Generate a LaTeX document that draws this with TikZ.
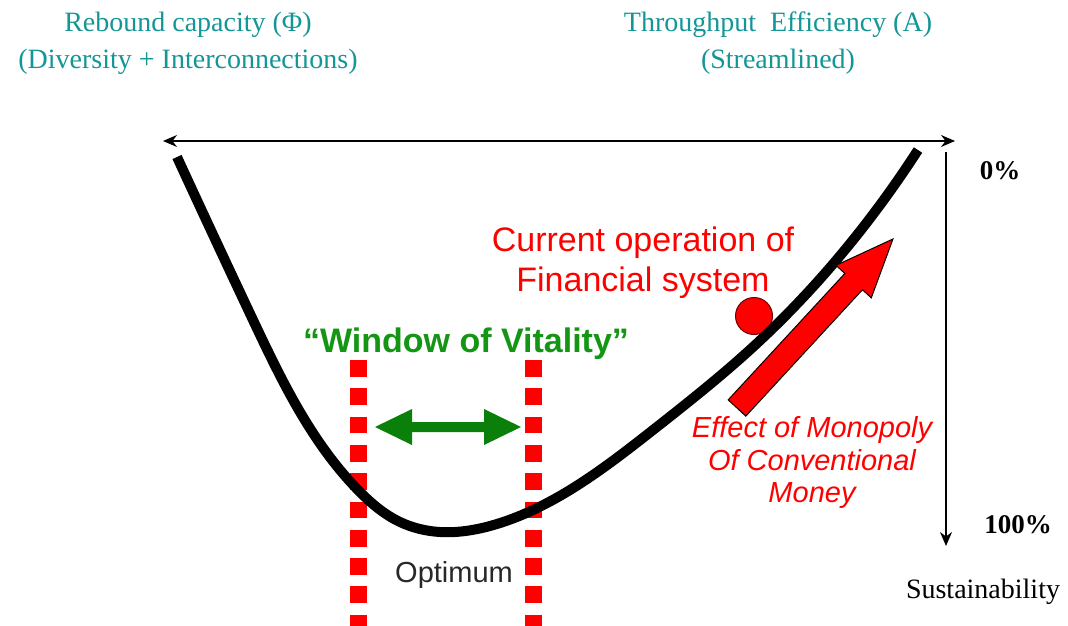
\documentclass[tikz,border=0pt]{standalone}
\usepackage{fontspec}
\setmainfont{Liberation Sans}
\newfontfamily\serifA{Liberation Serif}
\usetikzlibrary{arrows.meta,hobby}
\definecolor{tealT}{RGB}{20,150,150}
\definecolor{greenA}{RGB}{10,128,10}
\definecolor{greenT}{RGB}{20,150,20}
\definecolor{redA}{RGB}{255,0,0}
\definecolor{darkred}{RGB}{110,0,0}
\definecolor{optgray}{RGB}{40,40,40}
\tikzset{
  toplabel/.style={anchor=base, inner sep=0pt, text=tealT, font=\fontsize{28}{30}\selectfont\serifA},
  axislabel/.style={anchor=base, inner sep=0pt, font=\fontsize{27}{30}\selectfont\serifA\bfseries},
  redlabel/.style={anchor=base, inner sep=0pt, text=redA, font=\fontsize{34}{36}\selectfont},
  effectlabel/.style={anchor=base, inner sep=0pt, text=redA, font=\fontsize{29}{31}\selectfont\itshape},
  axisline/.style={line width=1.6pt, -{Stealth[length=14pt,width=12pt]}},
  bowl/.style={line width=10pt, black},
  window/.style={redA, line width=17pt, dash pattern=on 16.7pt off 11.6pt},
}
\begin{document}
\begin{tikzpicture}[x=1pt,y=-1pt]
\useasboundingbox[fill=white] (0,0) rectangle (1068,626);

% axes
\coordinate (hL) at (163,141);
\coordinate (hR) at (955,141);
\coordinate (hM) at (560,141);
\coordinate (vT) at (946,152);
\coordinate (vB) at (946,546);
\draw[axisline] (hM) -- (hL);
\draw[axisline] (hM) -- (hR);
\draw[axisline] (vT) -- (vB);

% window lines
\coordinate (wL1) at (358.5,360);
\coordinate (wL2) at (358.5,640);
\coordinate (wR1) at (533.5,360);
\coordinate (wR2) at (533.5,640);
\draw[window] (wL1) -- (wL2);
\draw[window] (wR1) -- (wR2);

% red ball
\node[circle, fill=redA, draw=darkred, line width=1pt, minimum size=37pt, inner sep=0pt] (ball) at (754,316) {};

% bowl curve
\draw[bowl, use Hobby shortcut] (177,157) .. (253,320) .. (358,490) .. (400,522) .. (440,532) .. (490,526) .. (533,510) .. (653,430) .. (753,347) .. (853,240) .. (918,150);

% green double arrow
\fill[greenA] (375,427) -- (412,409) -- (412,422) -- (484,422) -- (484,409) -- (521,427) -- (484,445) -- (484,432) -- (412,432) -- (412,445) -- cycle;

% red arrow
\begin{scope}[shift={(737,408)}, rotate=47.3]
\filldraw[fill=redA, draw=black, line width=1pt] (0,-12) -- (172,-12) -- (172,-24) -- (230,0) -- (172,24) -- (172,12) -- (0,12) -- cycle;
\end{scope}

% top labels
\node[toplabel] (rb1) at (188,32) {Rebound capacity (Φ)};
\node[toplabel] (rb2) at (188,68) {(Diversity + Interconnections)};
\node[toplabel] (te1) at (778,32) {Throughput\ \ Efficiency (A)};
\node[toplabel] (te2) at (778,68) {(Streamlined)};

% axis labels
\node[axislabel] (p0) at (1000,179) {0\%};
\node[axislabel] (p100) at (1018,533) {100\%};
\node[anchor=base, inner sep=0pt, font=\fontsize{28}{30}\selectfont\serifA] (sus) at (983,598) {Sustainability};

% red labels
\node[redlabel] (cur1) at (643,251) {Current operation of};
\node[redlabel] (cur2) at (643,291) {Financial system};

\node[effectlabel] (ef1) at (812,437) {Effect of Monopoly};
\node[effectlabel] (ef2) at (812,470) {Of Conventional};
\node[effectlabel] (ef3) at (812,502) {Money};

% window label
\node[anchor=base, inner sep=0pt, text=greenT, font=\fontsize{34}{36}\selectfont\bfseries] (win) at (466,352) {“Window of Vitality”};
\node[anchor=base, inner sep=0pt, text=optgray, font=\fontsize{29}{31}\selectfont] (opt) at (454,582) {Optimum};

\end{tikzpicture}
\end{document}
